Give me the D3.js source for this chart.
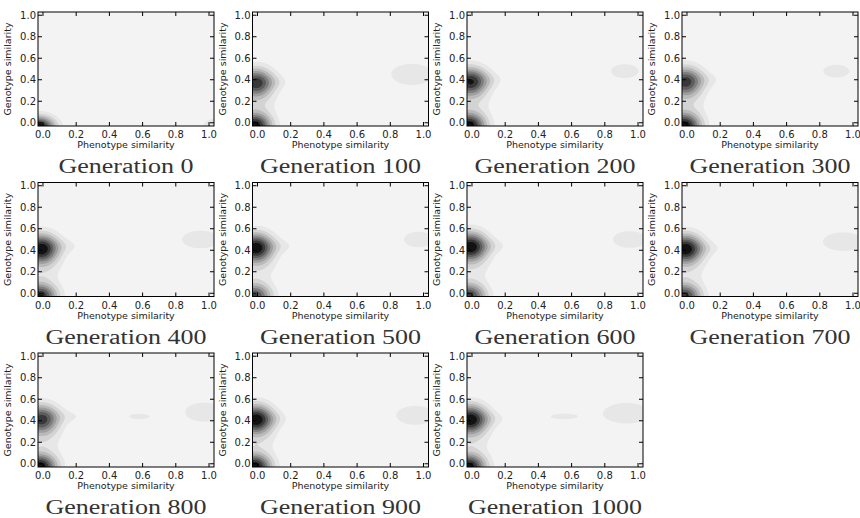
<!DOCTYPE html>
<html>
<head>
<meta charset="utf-8">
<script src="https://cdn.jsdelivr.net/npm/d3@7"></script>
<style>
  body { margin: 0; background: #fff; }
  text { font-family: "DejaVu Sans", sans-serif; }
</style>
</head>
<body>
<svg id="chart" width="860" height="518"></svg>
<script>
// Generations shown, one panel each
const generations = [0, 100, 200, 300, 400, 500, 600, 700, 800, 900, 1000];
const tickValues = [0, 0.2, 0.4, 0.6, 0.8, 1.0];
const axisDomain = [-0.03, 1.03];

// Density modes of the pairwise similarity distribution:
// [generation, phenotype, genotype, spreadPhen, spreadGen, weight]
const modes = [
  [0,    -0.03, -0.04, 0.072, 0.072, 1.00],
  [0,     1.04, -0.04, 0.070, 0.070, 0.20],

  [100,  -0.02, -0.03, 0.074, 0.088, 1.00],
  [100,  -0.01,  0.37, 0.074, 0.098, 0.85],
  [100,   0.01,  0.17, 0.090, 0.080, 0.10],
  [100,   0.11,  0.38, 0.070, 0.050, 0.09],
  [100,   0.93,  0.45, 0.120, 0.095, 0.19],

  [200,  -0.02, -0.03, 0.074, 0.088, 1.00],
  [200,  -0.01,  0.38, 0.074, 0.098, 0.90],
  [200,   0.01,  0.17, 0.090, 0.080, 0.10],
  [200,   0.12,  0.40, 0.070, 0.050, 0.09],
  [200,   0.92,  0.48, 0.090, 0.070, 0.17],

  [300,  -0.02, -0.03, 0.074, 0.088, 1.00],
  [300,  -0.01,  0.38, 0.074, 0.100, 0.84],
  [300,   0.01,  0.17, 0.090, 0.080, 0.10],
  [300,   0.13,  0.40, 0.075, 0.050, 0.09],
  [300,   0.90,  0.48, 0.085, 0.065, 0.17],

  [400,  -0.02, -0.03, 0.074, 0.088, 0.93],
  [400,  -0.01,  0.41, 0.074, 0.100, 1.00],
  [400,   0.01,  0.19, 0.090, 0.080, 0.10],
  [400,   0.15,  0.44, 0.085, 0.050, 0.10],
  [400,   0.95,  0.50, 0.110, 0.080, 0.19],

  [500,  -0.02, -0.03, 0.074, 0.088, 0.82],
  [500,  -0.01,  0.42, 0.074, 0.100, 1.00],
  [500,   0.01,  0.20, 0.090, 0.080, 0.10],
  [500,   0.15,  0.44, 0.085, 0.050, 0.10],
  [500,   0.97,  0.50, 0.090, 0.075, 0.18],

  [600,  -0.02, -0.03, 0.074, 0.088, 0.86],
  [600,  -0.01,  0.43, 0.074, 0.100, 1.00],
  [600,   0.01,  0.20, 0.090, 0.080, 0.10],
  [600,   0.14,  0.44, 0.080, 0.050, 0.10],
  [600,   0.95,  0.50, 0.090, 0.070, 0.21],

  [700,  -0.02, -0.03, 0.074, 0.088, 0.88],
  [700,  -0.01,  0.41, 0.074, 0.100, 1.00],
  [700,   0.01,  0.19, 0.090, 0.080, 0.10],
  [700,   0.13,  0.42, 0.080, 0.050, 0.10],
  [700,   0.94,  0.48, 0.120, 0.085, 0.19],

  [800,  -0.02, -0.03, 0.074, 0.088, 1.00],
  [800,  -0.01,  0.41, 0.074, 0.100, 0.84],
  [800,   0.01,  0.19, 0.090, 0.080, 0.10],
  [800,   0.17,  0.44, 0.100, 0.050, 0.10],
  [800,   0.58,  0.44, 0.070, 0.030, 0.16],
  [800,   0.97,  0.48, 0.110, 0.085, 0.19],

  [900,  -0.02, -0.03, 0.074, 0.088, 1.00],
  [900,  -0.01,  0.41, 0.074, 0.100, 0.98],
  [900,   0.01,  0.19, 0.090, 0.080, 0.10],
  [900,   0.11,  0.42, 0.070, 0.050, 0.09],
  [900,   0.95,  0.45, 0.110, 0.085, 0.19],

  [1000, -0.02, -0.03, 0.074, 0.088, 1.00],
  [1000, -0.01,  0.41, 0.074, 0.100, 1.00],
  [1000,  0.01,  0.19, 0.090, 0.080, 0.10],
  [1000,  0.13,  0.42, 0.080, 0.050, 0.10],
  [1000,  0.55,  0.44, 0.090, 0.030, 0.16],
  [1000,  0.93,  0.47, 0.130, 0.090, 0.20]
];

const nLevels = 9; // filled bands including the lowest one

const svg = d3.select("#chart");
const colLeft = [38, 252.5, 467, 682];
const rowTop = [12, 182.5, 353];
const pw = 176, ph = 114;
const res = 2; // density samples per pixel

// grey ramp from the light background band to a near-black peak
const band = k => {
  const t = Math.pow(k / (nLevels - 1), 1.4);
  const v = Math.round(243 - t * 225);
  return d3.rgb(v, v, v).formatHex();
};

generations.forEach((gen, idx) => {
  const left = colLeft[idx % 4], top = rowTop[Math.floor(idx / 4)];
  const x = d3.scaleLinear().domain(axisDomain).range([0, pw]);
  const y = d3.scaleLinear().domain(axisDomain).range([ph, 0]);
  const g = svg.append("g").attr("transform", `translate(${left},${top})`);

  const clipId = "clip" + idx;
  g.append("clipPath").attr("id", clipId)
    .append("rect").attr("width", pw).attr("height", ph);

  // density surface from this generation's modes
  const comps = modes.filter(m => m[0] === gen);
  const n = pw * res, m = ph * res;
  const values = new Float64Array(n * m);
  for (let j = 0; j < m; j++) {
    const gy = y.invert((j + 0.5) / res);
    for (let i = 0; i < n; i++) {
      const gx = x.invert((i + 0.5) / res);
      let v = 0;
      for (const c of comps) {
        const dx = (gx - c[1]) / c[3], dy = (gy - c[2]) / c[4];
        v += c[5] * Math.exp(-0.5 * (dx * dx + dy * dy));
      }
      values[j * n + i] = v;
    }
  }
  const vmax = d3.max(values);
  const thresholds = d3.range(1, nLevels).map(k => vmax * k / nLevels);
  const contours = d3.contours().size([n, m]).thresholds(thresholds)(values);

  const plot = g.append("g").attr("clip-path", `url(#${clipId})`);
  plot.append("rect").attr("width", pw).attr("height", ph).attr("fill", band(0));
  plot.append("g").attr("transform", `scale(${1 / res})`)
    .selectAll("path").data(contours).join("path")
    .attr("d", d3.geoPath())
    .attr("fill", (d, k) => band(k + 1));

  // inward ticks on all four sides
  const tickLen = 4;
  const tx = g.append("g");
  tickValues.forEach(t => {
    tx.append("line").attr("x1", x(t)).attr("x2", x(t)).attr("y1", ph).attr("y2", ph - tickLen);
    tx.append("line").attr("x1", x(t)).attr("x2", x(t)).attr("y1", 0).attr("y2", tickLen);
    tx.append("line").attr("y1", y(t)).attr("y2", y(t)).attr("x1", 0).attr("x2", tickLen);
    tx.append("line").attr("y1", y(t)).attr("y2", y(t)).attr("x1", pw).attr("x2", pw - tickLen);
  });
  tx.selectAll("line").attr("stroke", "#000").attr("stroke-width", 1);

  g.append("rect").attr("width", pw).attr("height", ph)
    .attr("fill", "none").attr("stroke", "#000").attr("stroke-width", 1);

  g.append("g").selectAll("text").data(tickValues).join("text")
    .attr("x", d => x(d)).attr("y", ph + 12)
    .attr("text-anchor", "middle").attr("font-size", 10).attr("fill", "#222")
    .text(d3.format(".1f"));
  g.append("g").selectAll("text").data(tickValues).join("text")
    .attr("x", -2).attr("y", d => y(d) + 3.6)
    .attr("text-anchor", "end").attr("font-size", 10).attr("fill", "#222")
    .text(d3.format(".1f"));

  g.append("text").attr("x", pw / 2).attr("y", ph + 22)
    .attr("text-anchor", "middle").attr("font-size", 9.5).attr("fill", "#222")
    .text("Phenotype similarity");
  g.append("text").attr("transform", `translate(-27,${ph / 2}) rotate(-90)`)
    .attr("text-anchor", "middle").attr("font-size", 9.5).attr("fill", "#222")
    .text("Genotype similarity");

  const title = g.append("text").attr("x", pw / 2).attr("y", ph + 47)
    .attr("text-anchor", "middle")
    .style("font-family", "'Liberation Serif', serif")
    .attr("font-size", 20).attr("fill", "#333")
    .text("Generation " + gen);
  const natural = title.node().getComputedTextLength();
  title.attr("textLength", natural * 1.3).attr("lengthAdjust", "spacingAndGlyphs");
});
</script>
</body>
</html>
